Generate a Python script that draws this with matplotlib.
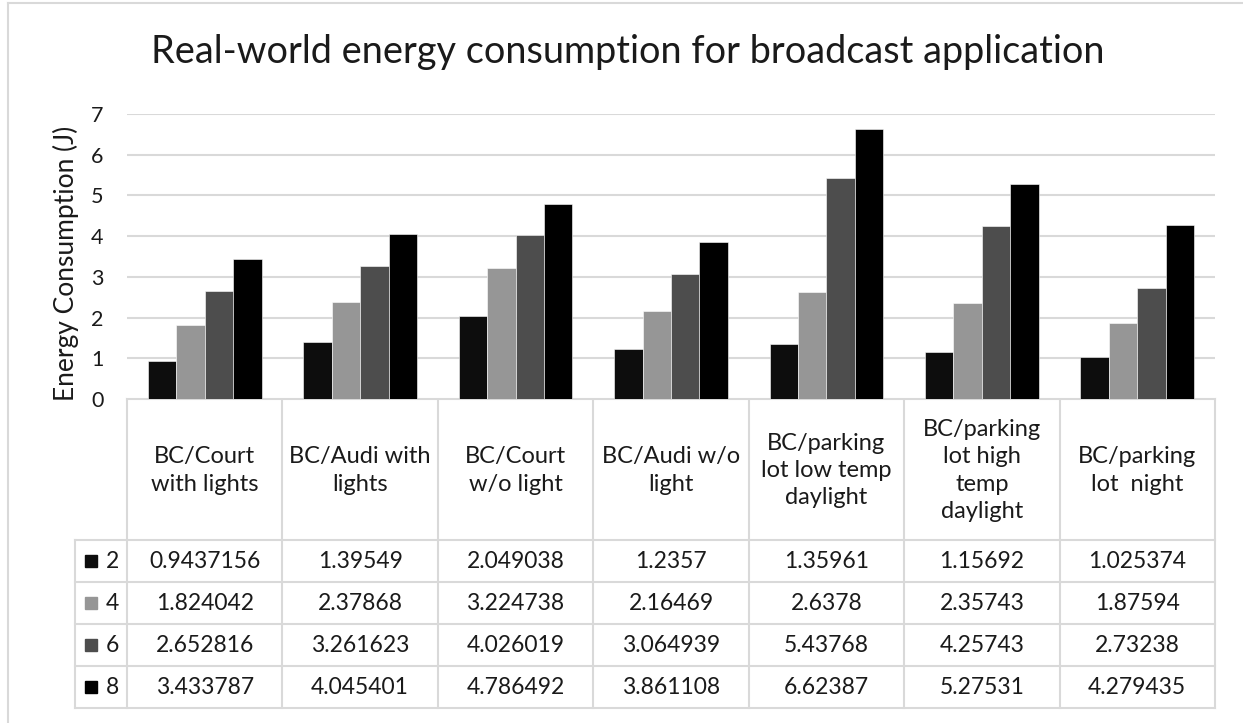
import matplotlib
matplotlib.use("Agg")
import matplotlib.pyplot as plt
from matplotlib.patches import Rectangle
from matplotlib.lines import Line2D

# ---- data ----
categories = [
    "BC/Court\nwith lights",
    "BC/Audi with\nlights",
    "BC/Court\nw/o light",
    "BC/Audi w/o\nlight",
    "BC/parking\nlot low temp\ndaylight",
    "BC/parking\nlot high\ntemp\ndaylight",
    "BC/parking\nlot  night",
]
series_names = ["2", "4", "6", "8"]
s2 = [0.9437156, 1.39549, 2.049038, 1.2357, 1.35961, 1.15692, 1.025374]
s4 = [1.824042, 2.37868, 3.224738, 2.16469, 2.6378, 2.35743, 1.87594]
s6 = [2.652816, 3.261623, 4.026019, 3.064939, 5.43768, 4.25743, 2.73238]
s8 = [3.433787, 4.045401, 4.786492, 3.861108, 6.62387, 5.27531, 4.279435]
series_values = [s2, s4, s6, s8]
# values as printed in the data table
table_text = [
    ["0.9437156", "1.39549", "2.049038", "1.2357", "1.35961", "1.15692", "1.025374"],
    ["1.824042", "2.37868", "3.224738", "2.16469", "2.6378", "2.35743", "1.87594"],
    ["2.652816", "3.261623", "4.026019", "3.064939", "5.43768", "4.25743", "2.73238"],
    ["3.433787", "4.045401", "4.786492", "3.861108", "6.62387", "5.27531", "4.279435"],
]
y_ticks = [0, 1, 2, 3, 4, 5, 6, 7]

colors = ["#0d0d0d", "#969696", "#4d4d4d", "#000000"]
grid_c = "#d9d9d9"
text_c = "#1a1a1a"
FONT = "Lato"

W, H = 1243, 723
fig = plt.figure(figsize=(W / 100, H / 100), dpi=100)


def fx(px):
    return px / W


def fy(py):
    return 1 - py / H


# outer chart frame
frame = fig.add_axes([0, 0, 1, 1])
frame.set_xlim(0, W)
frame.set_ylim(H, 0)
frame.axis("off")
frame.plot([8, 8], [3, H + 5], color=grid_c, lw=1.5, clip_on=False)
frame.plot([8, W + 5], [3, 3], color=grid_c, lw=1.5, clip_on=False)

# title
fig.text(fx(628), fy(52), "Real-world energy consumption for broadcast application",
         ha="center", va="center", fontsize=27.3, family=FONT, color=text_c)

# ---- bar plot area ----
x_left, x_right = 127, 1215
y_top, y_zero = 114, 399
ax = fig.add_axes([fx(x_left), fy(y_zero), fx(x_right) - fx(x_left), fy(y_top) - fy(y_zero)])
n = len(categories)
ax.set_xlim(-0.5, n - 0.5)
ax.set_ylim(0, 7)
bw = 0.183
for k, (vals, c) in enumerate(zip(series_values, colors)):
    xs = [i + (k - 1.5) * bw for i in range(n)]
    ax.bar(xs, vals, width=bw, color=c, edgecolor="white", linewidth=0.4, zorder=3)
ax.set_yticks(y_ticks)
ax.set_yticklabels([str(t) for t in y_ticks], family=FONT, fontsize=15.5, color=text_c)
ax.tick_params(axis="y", length=0, pad=17)
ax.set_xticks([])
ax.grid(axis="y", color=grid_c, lw=1.5, zorder=0)
for sp in ax.spines.values():
    sp.set_visible(False)
fig.text(fx(66), fy(263), "Energy Consumption (J)", rotation=90, ha="center", va="center",
         family=FONT, fontsize=19, color=text_c)

# ---- data table ----
cw = (x_right - x_left) / n  # pixel width of a category column
tab = fig.add_axes([0, 0, 1, 1], zorder=-1)
tab.set_xlim(0, W)
tab.set_ylim(H, 0)
tab.axis("off")

row_lines = [540, 582, 624, 666, 708]
legend_left = 75
lk = dict(color=grid_c, lw=1.5)
# header top
tab.add_line(Line2D([x_left, x_right], [y_zero, y_zero], **lk))
# horizontal rows
for yl in row_lines:
    tab.add_line(Line2D([legend_left, x_right], [yl, yl], **lk))
# vertical lines
for i in range(n + 1):
    xv = x_left + i * cw
    tab.add_line(Line2D([xv, xv], [y_zero, row_lines[-1]], **lk))
tab.add_line(Line2D([legend_left, legend_left], [row_lines[0], row_lines[-1]], **lk))

# category headers
for i, cat in enumerate(categories):
    tab.text(x_left + (i + 0.5) * cw, (y_zero + row_lines[0]) / 2 + 1, cat,
             ha="center", va="center", fontsize=17, family=FONT, color=text_c,
             linespacing=1.36)

# data rows with legend keys
for j, (name, c) in enumerate(zip(series_names, colors)):
    yc = (row_lines[j] + row_lines[j + 1]) / 2
    tab.add_patch(Rectangle((85, yc - 6), 12, 12, color=c))
    tab.text(106, yc, name, ha="left", va="center", fontsize=16.5, family=FONT, color=text_c)
    for i in range(n):
        tab.text(x_left + (i + 0.5) * cw, yc, table_text[j][i], ha="center", va="center",
                 fontsize=16.5, family=FONT, color=text_c)

fig.savefig("out.png", dpi=100, facecolor="white")
